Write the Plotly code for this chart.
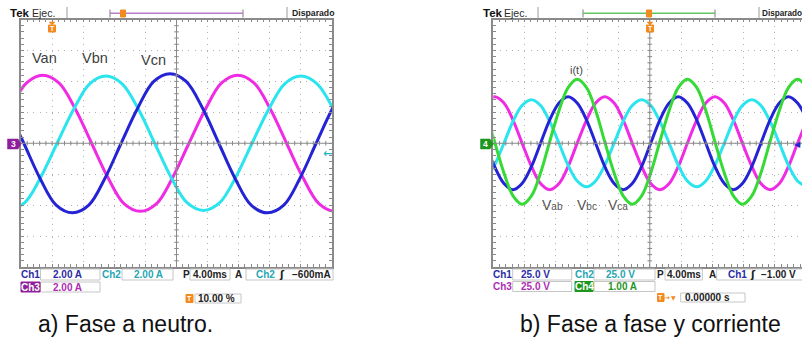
import plotly.graph_objects as go

W, H = 802, 337

# ---------------- data (units: screen divisions) ----------------
# Panel a) fase a neutro: x 0..10 div, y -4..4 div
van_t = [-0.35, 0.18, 0.70, 1.22, 1.75, 2.27, 2.79, 3.31, 3.84, 4.36, 4.88, 5.40,
         5.93, 6.45, 6.97, 7.49, 8.02, 8.54, 9.06, 9.58, 10.11, 10.63]
van_v = [1.10, 1.95, 2.20, 1.95, 1.10, 0.00, -1.10, -1.95, -2.20, -1.95, -1.10, 0.00,
         1.10, 1.95, 2.20, 1.95, 1.10, 0.00, -1.10, -1.95, -2.20, -1.95]

vbn_t = [-0.41, 0.12, 0.64, 1.16, 1.69, 2.21, 2.73, 3.25, 3.78, 4.30, 4.82, 5.34,
         5.87, 6.39, 6.91, 7.43, 7.96, 8.48, 9.00, 9.52, 10.05, 10.57]
vbn_v = [-2.17, -1.92, -1.09, 0.00, 1.09, 1.92, 2.17, 1.92, 1.09, 0.00, -1.09, -1.92,
         -2.17, -1.92, -1.09, 0.00, 1.09, 1.92, 2.17, 1.92, 1.09, 0.00]

vcn_t = [-0.44, 0.09, 0.61, 1.13, 1.66, 2.18, 2.70, 3.22, 3.75, 4.27, 4.79, 5.31,
         5.84, 6.36, 6.88, 7.40, 7.93, 8.45, 8.97, 9.49, 10.02, 10.54]
vcn_v = [1.13, 0.00, -1.13, -2.00, -2.25, -2.00, -1.13, 0.00, 1.13, 2.00, 2.25, 2.00,
         1.13, 0.00, -1.13, -2.00, -2.25, -2.00, -1.13, 0.00, 1.13, 2.00]

# Panel b) fase a fase y corriente (common time grid)
b_t = [-0.25, 0.04, 0.34, 0.63, 0.92, 1.22, 1.51, 1.80, 2.10, 2.39, 2.68, 2.98,
       3.27, 3.56, 3.86, 4.15, 4.44, 4.74, 5.03, 5.32, 5.62, 5.91, 6.20, 6.50,
       6.79, 7.08, 7.38, 7.67, 7.96, 8.26, 8.55, 8.84, 9.14, 9.43, 9.72, 10.02]
ch1_v = [0.00, -0.75, -1.30, -1.50, -1.30, -0.75, 0.00, 0.75, 1.30, 1.50, 1.30, 0.75,
         0.00, -0.75, -1.30, -1.50, -1.30, -0.75, 0.00, 0.75, 1.30, 1.50, 1.30, 0.75,
         0.00, -0.75, -1.30, -1.50, -1.30, -0.75, 0.00, 0.75, 1.30, 1.50, 1.30, 0.75]
ch3_v = [1.30, 1.50, 1.30, 0.75, 0.00, -0.75, -1.30, -1.50, -1.30, -0.75, 0.00, 0.75,
         1.30, 1.50, 1.30, 0.75, 0.00, -0.75, -1.30, -1.50, -1.30, -0.75, 0.00, 0.75,
         1.30, 1.50, 1.30, 0.75, 0.00, -0.75, -1.30, -1.50, -1.30, -0.75, 0.00, 0.75]
ch2_v = [-1.22, -0.71, 0.00, 0.71, 1.22, 1.41, 1.22, 0.71, 0.00, -0.71, -1.22, -1.41,
         -1.22, -0.71, 0.00, 0.71, 1.22, 1.41, 1.22, 0.71, 0.00, -0.71, -1.22, -1.41,
         -1.22, -0.71, 0.00, 0.71, 1.22, 1.41, 1.22, 0.71, 0.00, -0.71, -1.22, -1.41]
ch4_v = [1.06, 0.05, -0.96, -1.70, -1.97, -1.70, -0.96, 0.05, 1.06, 1.80, 2.07, 1.80,
         1.06, 0.05, -0.96, -1.70, -1.97, -1.70, -0.96, 0.05, 1.06, 1.80, 2.07, 1.80,
         1.06, 0.05, -0.96, -1.70, -1.97, -1.70, -0.96, 0.05, 1.06, 1.80, 2.07, 1.80]

labels_a = ["Van", "Vbn", "Vcn"]
labels_b = ["V<span style='font-size:10px'>ab</span>", "V<span style='font-size:10px'>bc</span>",
            "V<span style='font-size:10px'>ca</span>"]
caption_a = "a) Fase a neutro."
caption_b = "b) Fase a fase y corriente"

# ---------------- styles ----------------
BLUE, CYAN, MAG, GREEN = "#2424d4", "#2ae4ee", "#ef2ce4", "#36da36"
TBLUE, TCYAN, TMAG, TGREEN = "#2b2ba6", "#25a6b4", "#ad2cb3", "#1f951f"
ORANGE = "#f28a1e"
GRID = "#b0b0b0"
FRAME = "#8a8a8a"
FONT = "Liberation Sans"


def PX(x):
    return x / W


def PY(y):
    return 1 - y / H


fig = go.Figure()


def trace(t, v, color, ax):
    fig.add_trace(go.Scatter(x=t, y=v, mode="lines", xaxis="x" + ax, yaxis="y" + ax,
                             line=dict(color=color, width=3, shape="spline", smoothing=1.0),
                             hoverinfo="skip", showlegend=False))


trace(van_t, van_v, MAG, "")
trace(vbn_t, vbn_v, CYAN, "")
trace(vcn_t, vcn_v, BLUE, "")
trace(b_t, ch3_v, MAG, "2")
trace(b_t, ch2_v, CYAN, "2")
trace(b_t, ch1_v, BLUE, "2")
trace(b_t, ch4_v, GREEN, "2")


def grat(domain, rng, mirror=True):
    return dict(domain=domain, range=rng, dtick=1, tick0=0, showgrid=True, gridcolor=GRID,
                griddash="1px,5.2px", gridwidth=1, zeroline=False, showline=True,
                linecolor=FRAME, linewidth=1.5, mirror="ticks" if mirror else False,
                ticks="inside", ticklen=3, tickcolor=FRAME, tickwidth=1, showticklabels=False,
                minor=dict(dtick=0.2, ticks="inside", ticklen=3, tickcolor=FRAME, tickwidth=1,
                           showgrid=False),
                fixedrange=True)


ydom = [PY(267), PY(19.5)]
shapes = []
annotations = []

# center cross-hair with ticks, per panel
for ax, xmax in (("", 10.0), ("2", 9.863)):
    xr, yr = "x" + ax, "y" + ax
    shapes.append(dict(type="line", xref=xr, yref=yr, x0=0, x1=xmax, y0=0, y1=0,
                       line=dict(color=FRAME, width=1)))
    shapes.append(dict(type="line", xref=xr, yref=yr, x0=5, x1=5, y0=-4, y1=4,
                       line=dict(color=FRAME, width=1)))
    for i in range(1, 50):
        xv = i * 0.2
        if xv < xmax:
            shapes.append(dict(type="line", xref=xr, yref=yr, x0=xv, x1=xv, y0=-0.075, y1=0.075,
                               line=dict(color=FRAME, width=1)))
    for i in range(1, 40):
        yv = -4 + i * 0.2
        shapes.append(dict(type="line", xref=xr, yref=yr, x0=4.925, x1=5.075, y0=yv, y1=yv,
                           line=dict(color=FRAME, width=1)))


def seg(x0, y0, x1, y1, color, width=1):
    shapes.append(dict(type="line", xref="paper", yref="paper", x0=PX(x0), x1=PX(x1),
                       y0=PY(y0), y1=PY(y1), line=dict(color=color, width=width)))


def box(x0, y0, x1, y1, line="#c6c6c6", fill="white"):
    shapes.append(dict(type="rect", xref="paper", yref="paper", x0=PX(x0), x1=PX(x1),
                       y0=PY(y1), y1=PY(y0), line=dict(color=line, width=1), fillcolor=fill))


def poly(pts, fill):
    path = "M " + " L ".join(f"{PX(a):.5f},{PY(b):.5f}" for a, b in pts) + " Z"
    shapes.append(dict(type="path", xref="paper", yref="paper", path=path,
                       fillcolor=fill, line=dict(color=fill, width=0.5)))


def txt(s, x, y, size, color, bold=False, xanchor="center", family=FONT):
    annotations.append(dict(text=f"<b>{s}</b>" if bold else s, x=PX(x), y=PY(y),
                            xref="paper", yref="paper", xanchor=xanchor, yanchor="middle",
                            showarrow=False, borderpad=0,
                            font=dict(size=size, color=color, family=family)))


def tmark(x, y):
    # small orange trigger marker: down arrow + box with T
    poly([(x - 3, y - 5), (x + 3, y - 5), (x, y - 2)], ORANGE)
    box(x - 3.5, y - 2, x + 3.5, y + 5, line=ORANGE, fill=ORANGE)
    txt("T", x, y + 1.6, 7, "white", bold=True)


# ---------- top bars ----------
for x0, bl, br, bcol, tpos, sep1, sep2, disp, dsz in (
        (9, 110, 243, "#b87cc9", 123, 67, 287, 291, 8.7),
        (481.5, 583, 715, "#62c462", 649, 538, 759, 761, 8.2)):
    txt("Tek", x0, 13, 11.5, "#111", bold=True, xanchor="left")
    txt("Ejec.", x0 + 21.5, 13.3, 10.5, "#2a2a2a", xanchor="left")
    seg(sep1, 7, sep1, 18, "#9c9c9c")
    seg(sep2, 7, sep2, 18, "#9c9c9c")
    seg(bl, 9.5, bl, 17.5, "#7a7a7a")
    seg(br, 9.5, br, 17.5, "#7a7a7a")
    seg(bl, 13.3, br, 13.3, bcol, 1.5)
    box(tpos - 2.5, 10, tpos + 2.5, 17, line=ORANGE, fill=ORANGE)
    txt("Disparado", disp, 13.3, dsz, "#222", bold=True, xanchor="left")

tmark(52, 27)
tmark(650, 27)

# ground markers
poly([(7.5, 139), (18, 139), (21, 144), (18, 149), (7.5, 149)], "#8e1f9c")
txt("3", 13, 144, 8.5, "white", bold=True)
poly([(480.5, 139), (490, 139), (493.5, 144), (490, 149), (480.5, 149)], "#1e961e")
txt("4", 485.5, 144, 8.5, "white", bold=True)

# trigger level arrows
txt("←", 327, 153, 11, "#22b4c4", bold=True, family="DejaVu Sans")
txt("◀", 797, 144, 8, BLUE, family="DejaVu Sans")

# waveform labels
txt(labels_a[0], 44.5, 58, 14.5, "#404040")
txt(labels_a[1], 95, 58, 14.5, "#404040")
txt(labels_a[2], 153.5, 60, 14.5, "#404040")
txt("i(t)", 576.5, 70, 11, "#474747")
txt(labels_b[0], 552, 205, 14, "#555555")
txt(labels_b[1], 586.5, 205, 14, "#555555")
txt(labels_b[2], 618, 205, 14, "#555555")

# ---------- status area, panel a ----------
SZ = 10
box(40.5, 269, 100, 280)
box(122, 269, 173, 280)
box(190, 269, 230, 280)
box(246, 269, 333, 280)
box(40.5, 282, 100, 292)
box(21, 282, 40, 292, line="#8e1f9c", fill="#8e1f9c")
box(195, 294, 241, 303)
box(186, 294.5, 193, 302.5, line=ORANGE, fill=ORANGE)
txt("Ch1", 30, 274.5, SZ, TBLUE, bold=True)
txt("2.00 A", 67.5, 274.5, SZ, TBLUE, bold=True)
txt("Ch2", 112, 274.5, SZ, TCYAN, bold=True)
txt("2.00 A", 148.5, 274.5, SZ, TCYAN, bold=True)
txt("P", 186, 274.5, SZ, "#222", bold=True)
txt("4.00ms", 209.5, 274.5, SZ, "#222", bold=True)
txt("A", 238, 274.5, SZ, "#222", bold=True)
txt("Ch2", 265.5, 274.5, SZ, TCYAN, bold=True)
txt("ʃ", 281.5, 274.5, SZ, "#222", bold=True, family="DejaVu Sans")
txt("−600mA", 311.5, 274.5, SZ, "#222", bold=True)
txt("Ch3", 30.5, 287, SZ, "white", bold=True)
txt("2.00 A", 67.5, 287, SZ, TMAG, bold=True)
txt("T", 189.5, 298.5, 7, "white", bold=True)
txt("10.00 %", 216, 298.5, SZ, "#222", bold=True)

# ---------- status area, panel b ----------
box(512.7, 269, 571.7, 280)
box(594, 269, 655, 280)
box(665, 269, 702.3, 280)
box(716.7, 269, 830, 280)
box(512.7, 281.5, 571.7, 291.5)
box(594, 281.5, 655, 291.5)
box(575, 281.5, 593, 291.5, line="#1e961e", fill="#1e961e")
box(680.7, 293, 745, 302)
box(657.5, 293.5, 664, 301.5, line=ORANGE, fill=ORANGE)
txt("Ch1", 502.5, 274.5, SZ, TBLUE, bold=True)
txt("25.0 V", 535.5, 274.5, SZ, TBLUE, bold=True)
txt("Ch2", 584, 274.5, SZ, TCYAN, bold=True)
txt("25.0 V", 620.5, 274.5, SZ, TCYAN, bold=True)
txt("P", 660, 274.5, SZ, "#222", bold=True)
txt("4.00ms", 684, 274.5, SZ, "#222", bold=True)
txt("A", 712.5, 274.5, SZ, "#222", bold=True)
txt("Ch1", 737, 274.5, SZ, TBLUE, bold=True)
txt("ʃ", 753, 274.5, SZ, "#222", bold=True, family="DejaVu Sans")
txt("−1.00 V", 760, 274.5, SZ, "#222", bold=True, xanchor="left")
txt("Ch3", 502.5, 286.5, SZ, TMAG, bold=True)
txt("25.0 V", 535.5, 286.5, SZ, TMAG, bold=True)
txt("Ch4", 584, 286.5, SZ, "white", bold=True)
txt("1.00 A", 622, 286.5, SZ, TGREEN, bold=True)
txt("T", 660.7, 297.5, 7, "white", bold=True)
txt("→", 667, 297.5, 7, ORANGE, bold=True, family="DejaVu Sans")
txt("▼", 673, 297.5, 6, ORANGE, family="DejaVu Sans")
txt("0.00000 s", 707, 297.5, SZ, "#222", bold=True)

# captions
txt(caption_a, 125, 323.5, 23, "#111")
txt(caption_b, 650, 323.5, 23, "#111")

fig.update_layout(
    width=W, height=H, autosize=False,
    margin=dict(l=0, r=0, t=0, b=0),
    paper_bgcolor="white", plot_bgcolor="white",
    showlegend=False, hovermode=False,
    xaxis=grat([PX(21), PX(332)], [0, 10]),
    yaxis=grat(ydom, [-4, 4]),
    xaxis2=grat([PX(493.3), 1.0], [0, 9.863]),
    yaxis2=grat(ydom, [-4, 4], mirror=False),
    shapes=shapes,
    annotations=annotations,
)
fig.update_layout(yaxis2=dict(anchor="x2"), xaxis2=dict(anchor="y2"))

fig.write_html("out.html", config={"displayModeBar": False},
               post_script="document.body.style.margin='0';")
